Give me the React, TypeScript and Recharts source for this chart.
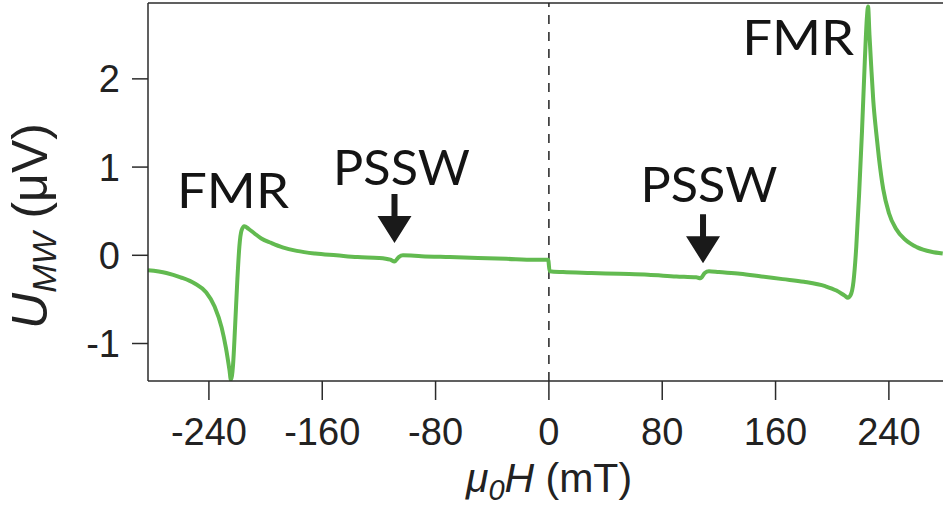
import React from "react";
import {
  LineChart,
  Line,
  XAxis,
  YAxis,
  ReferenceLine,
  ReferenceDot,
} from "recharts";

const fieldMT = [
  -283, -270, -260, -250, -242, -236, -231, -228, -225.5, -224.5, -223,
  -221.5, -220, -218.5, -217, -215, -212, -208, -203, -196, -188, -178, -165,
  -150, -135, -120, -112, -109, -106, -103, -90, -70, -50, -30, -10, -0.5,
  0.5, 10, 30, 50, 70, 90, 104, 107, 110, 113, 120, 135, 150, 165, 180, 195,
  203, 209, 211, 213, 215, 217, 219, 221, 223, 224.5, 225.3, 226.3, 227.5,
  229, 231, 233, 236, 240, 245, 252, 260, 270, 278,
];
const signalUV = [
  -0.17, -0.2, -0.25, -0.32, -0.42, -0.58, -0.82, -1.05, -1.3, -1.41, -1.25,
  -0.8, -0.3, 0.1, 0.28, 0.33, 0.3, 0.25, 0.19, 0.14, 0.09, 0.05, 0.02, 0.0,
  -0.02, -0.03, -0.05, -0.07, -0.02, 0.0, -0.01, -0.02, -0.03, -0.04, -0.05,
  -0.05, -0.18, -0.19, -0.2, -0.21, -0.22, -0.24, -0.25, -0.26, -0.2, -0.18,
  -0.19, -0.21, -0.24, -0.27, -0.3, -0.35, -0.4, -0.46, -0.48, -0.45, -0.3,
  0.1, 0.7, 1.4, 2.2, 2.7, 2.82, 2.5, 2.15, 1.75, 1.4, 1.1, 0.75, 0.48, 0.3,
  0.17, 0.09, 0.04, 0.02,
];

const xTicks = [-240, -160, -80, 0, 80, 160, 240];
const yTicks = [-1, 0, 1, 2];
const xDomain = [-283, 278.2];
const yDomain = [-1.425, 2.86];

// peak labels: [field, signal, text]
const peakLabels: [number, number, string][] = [
  [-223, 0.54, "FMR"],
  [176, 2.27, "FMR"],
  [-104, 0.8, "PSSW"],
  [113, 0.6, "PSSW"],
];
// arrow tips for the spin-wave modes
const arrowTips: [number, number][] = [
  [-109, 0.14],
  [108.8, -0.09],
];

const data = fieldMT.map((f, i) => ({ field: f, signal: signalUV[i] }));

const axisColor = "#2b2b2b";
const tickFont = "'Liberation Sans', Arial, sans-serif";

const PeakText = (props: any) => {
  const { cx, cy, text } = props;
  return (
    <text
      x={cx}
      y={cy}
      textAnchor="middle"
      fontFamily="Lato, 'Open Sans', sans-serif"
      fontSize={48}
      fill="#141414"
      textLength={text === "FMR" ? 112 : 137}
      lengthAdjust="spacingAndGlyphs"
    >
      {text}
    </text>
  );
};

const Arrow = (props: any) => {
  const { cx, cy } = props;
  const d = `M${cx},${cy} L${cx - 17},${cy - 27} L${cx - 3},${cy - 27} L${cx - 3},${cy - 49} L${cx + 3},${cy - 49} L${cx + 3},${cy - 27} L${cx + 17},${cy - 27} Z`;
  return <path d={d} fill="#1a1a1a" />;
};

const XTitle = (props: any) => {
  const { viewBox } = props;
  return (
    <text
      x={549}
      y={viewBox.y + 111}
      textAnchor="middle"
      fontFamily={tickFont}
      fontSize={41}
      fill="#222"
    >
      <tspan fontStyle="italic">μ</tspan>
      <tspan fontStyle="italic" fontSize={29} dy={8}>
        0
      </tspan>
      <tspan fontStyle="italic" dy={-8}>
        H
      </tspan>
      <tspan>{"\u00a0(mT)"}</tspan>
    </text>
  );
};

const YTitle = () => {
  const x = 47;
  const y = 226;
  return (
    <text
      x={x}
      y={y}
      transform={`rotate(-90, ${x}, ${y})`}
      textAnchor="middle"
      fontFamily={tickFont}
      fontSize={50}
      fill="#222"
    >
      <tspan fontStyle="italic">U</tspan>
      <tspan fontStyle="italic" fontSize={34} dy={9}>
        MW
      </tspan>
      <tspan dy={-9}>{"\u00a0(μV)"}</tspan>
    </text>
  );
};

export default function App() {
  return (
    <div style={{ position: "absolute", left: 0, top: 0, background: "#fff" }}>
      <LineChart
        width={943}
        height={510}
        data={data}
        margin={{ top: 3, right: 0, bottom: 0, left: 0 }}
      >
        <XAxis
          dataKey="field"
          type="number"
          domain={xDomain}
          ticks={xTicks}
          allowDataOverflow
          height={129}
          tickSize={19}
          tickMargin={18}
          stroke={axisColor}
          strokeWidth={1.5}
          tick={{ fontSize: 38, fill: "#222", fontFamily: tickFont }}
          label={<XTitle />}
        />
        <YAxis
          type="number"
          domain={yDomain}
          ticks={yTicks}
          allowDataOverflow
          width={148}
          tickSize={16}
          tickMargin={12}
          stroke={axisColor}
          strokeWidth={1.5}
          tick={{ fontSize: 38, fill: "#222", fontFamily: tickFont }}
          label={<YTitle />}
        />
        <ReferenceLine y={yDomain[1]} stroke={axisColor} strokeWidth={1.5} />
        <ReferenceLine
          x={0}
          stroke="#222"
          strokeWidth={1.5}
          strokeDasharray="9 8"
        />
        <Line
          type="monotone"
          dataKey="signal"
          stroke="#62ba50"
          strokeWidth={4}
          dot={false}
          isAnimationActive={false}
        />
        {peakLabels.map(([fx, fy, t], i) => (
          <ReferenceDot
            key={"lbl" + i}
            x={fx}
            y={fy}
            shape={(p: any) => <PeakText {...p} text={t} />}
          />
        ))}
        {arrowTips.map(([fx, fy], i) => (
          <ReferenceDot key={"arr" + i} x={fx} y={fy} shape={<Arrow />} />
        ))}
      </LineChart>
    </div>
  );
}
